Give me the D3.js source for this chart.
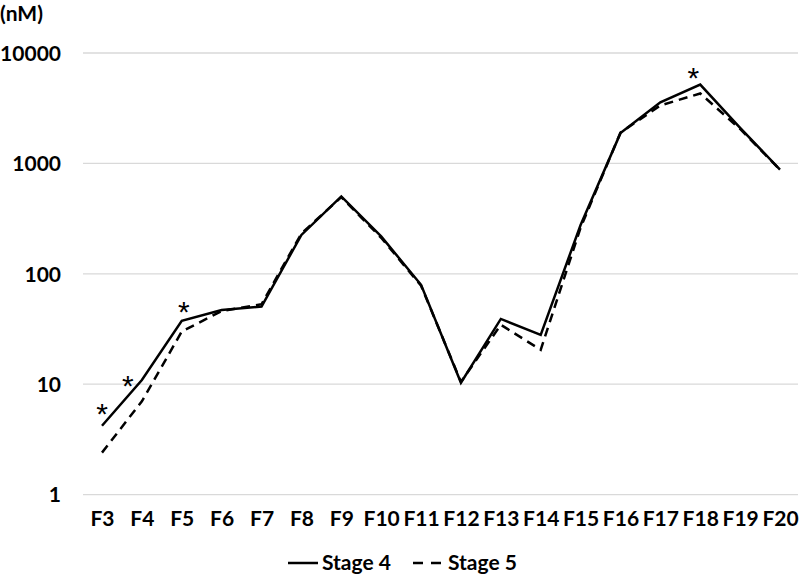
<!DOCTYPE html>
<html>
<head>
<meta charset="utf-8">
<script src="https://cdn.jsdelivr.net/npm/d3@7"></script>
<style>
  body { margin: 0; background: #fff; }
  svg { display: block; }
  text { font-family: Lato, "Open Sans", sans-serif; font-weight: bold; fill: #000; }
</style>
</head>
<body>
<div id="chart"></div>
<script>
// data
var categories = ["F3","F4","F5","F6","F7","F8","F9","F10","F11","F12","F13","F14","F15","F16","F17","F18","F19","F20"];
var stage4 = [4.2, 10.9, 37.5, 47, 50.5, 225, 502, 218, 79.5, 10.3, 39, 28, 277, 1880, 3570, 5170, 2100, 877];
var stage5 = [2.4, 7.0, 30, 46, 53, 232, 495, 212, 78, 10.5, 34.5, 20.5, 262, 1900, 3350, 4300, 2050, 877];
var yTicks = [1, 10, 100, 1000, 10000];
var starred = ["F3", "F4", "F5", "F18"];
var starOffset = {"F3": [0, -19], "F4": [-14, -1], "F5": [2, -16], "F18": [-7, -14]};

var width = 800, height = 577;

var svg = d3.select("#chart").append("svg")
    .attr("width", width)
    .attr("height", height);

var x = d3.scalePoint().domain(categories).range([102, 780]);
var y = d3.scaleLog().domain([1, 10000]).range([494.6, 53]);

// gridlines
svg.append("g")
    .selectAll("line")
    .data(yTicks)
  .enter().append("line")
    .attr("x1", 83)
    .attr("x2", 798)
    .attr("y1", function(d) { return y(d); })
    .attr("y2", function(d) { return y(d); })
    .attr("stroke", "#d9d9d9")
    .attr("stroke-width", 1.3);

// y axis labels
var yAxis = svg.append("g")
    .attr("transform", "translate(61,0)")
    .call(d3.axisLeft(y).tickValues(yTicks).tickSize(0).tickPadding(0).tickFormat(d3.format("d")));
yAxis.select(".domain").remove();
yAxis.selectAll("text")
    .attr("font-size", 21)
    .attr("font-family", null)
    .attr("dy", "0.35em");

// x axis labels
var xAxis = svg.append("g")
    .attr("transform", "translate(0,509)")
    .call(d3.axisBottom(x).tickSize(0).tickPadding(0));
xAxis.select(".domain").remove();
xAxis.selectAll("text")
    .attr("font-size", 21)
    .attr("font-family", null)
    .attr("dy", "0.8em");

svg.append("text")
    .attr("x", 0)
    .attr("y", 21)
    .attr("font-size", 21)
    .text("(nM)");

var line = d3.line()
    .x(function(d, i) { return x(categories[i]); })
    .y(function(d) { return y(d); });

svg.append("path")
    .datum(stage5)
    .attr("d", line)
    .attr("fill", "none")
    .attr("stroke", "#000")
    .attr("stroke-width", 2.5)
    .attr("stroke-dasharray", "9,6");

svg.append("path")
    .datum(stage4)
    .attr("d", line)
    .attr("fill", "none")
    .attr("stroke", "#000")
    .attr("stroke-width", 2.5)
    .attr("stroke-linejoin", "miter");

// significance stars
svg.append("g")
    .selectAll("text")
    .data(starred)
  .enter().append("text")
    .attr("x", function(d) { return x(d) + starOffset[d][0]; })
    .attr("y", function(d) { return y(stage4[categories.indexOf(d)]) + starOffset[d][1]; })
    .attr("dy", "0.58em")
    .attr("text-anchor", "middle")
    .style("font-family", "'Liberation Sans', Arial, sans-serif")
    .style("font-weight", "normal")
    .style("font-size", "30px")
    .text("*");

// legend
var legend = svg.append("g").attr("transform", "translate(0,563)");
legend.append("line")
    .attr("x1", 288).attr("x2", 318)
    .attr("stroke", "#000").attr("stroke-width", 2.5);
legend.append("text")
    .attr("x", 322).attr("dy", "0.35em")
    .attr("font-size", 21)
    .text("Stage 4");
legend.append("line")
    .attr("x1", 413).attr("x2", 443)
    .attr("stroke", "#000").attr("stroke-width", 2.5)
    .attr("stroke-dasharray", "10,8");
legend.append("text")
    .attr("x", 448).attr("dy", "0.35em")
    .attr("font-size", 21)
    .text("Stage 5");
</script>
</body>
</html>
